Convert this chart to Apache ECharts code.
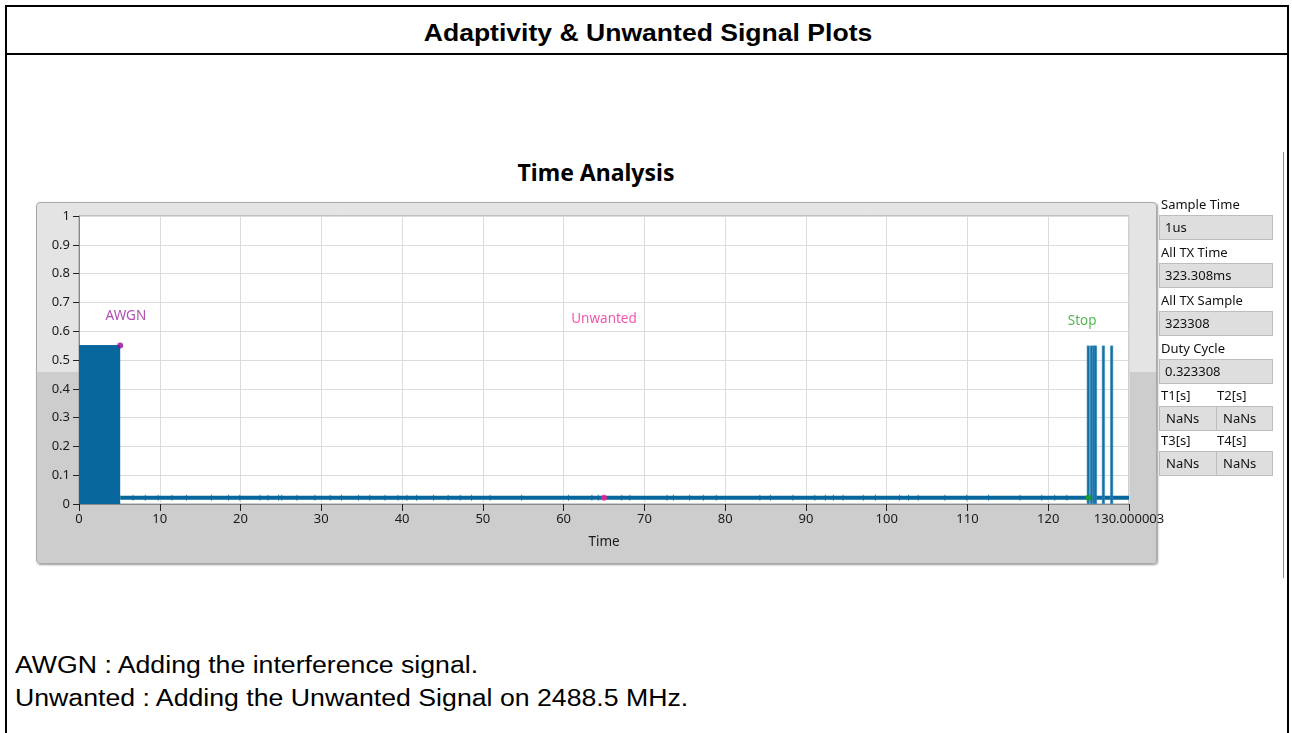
<!DOCTYPE html>
<html>
<head>
<meta charset="utf-8">
<script src="https://cdn.jsdelivr.net/npm/echarts@6/dist/echarts.min.js"></script>
<style>
  html, body { margin: 0; padding: 0; background: #fff; }
  #page { position: relative; width: 1292px; height: 733px; overflow: hidden; background: #fff; }
  .bar { position: absolute; background: #000; }
  .txt { position: absolute; white-space: nowrap; }
  #frame { position: absolute; left: 36px; top: 202px; width: 1119px; height: 360px;
    border: 1px solid #a9a9a9; border-radius: 4px;
    background: linear-gradient(to bottom, #e4e4e4 0px, #e4e4e4 169px, #cdcdcd 169px, #cdcdcd 100%);
    box-shadow: 1px 1px 2px #9a9a9a; z-index: 1; }
  #chart { position: absolute; left: 0; top: 0; width: 1292px; height: 733px; z-index: 2; }
  .lbl { position: absolute; font-family: "Noto Sans", "Open Sans", sans-serif; font-size: 13px; color: #111; z-index: 3; white-space: nowrap; }
  .box { position: absolute; background: #dedede; border: 1px solid #bdbdbd; box-sizing: border-box;
    font-family: "Noto Sans", "Open Sans", sans-serif; font-size: 13px; color: #111; z-index: 3; white-space: nowrap;
    padding-left: 5px; line-height: 22px; }
</style>
</head>
<body>
<div id="page">
  <div class="bar" style="left:5px;top:5px;width:2px;height:728px;"></div>
  <div class="bar" style="left:1287px;top:5px;width:2px;height:728px;"></div>
  <div class="bar" style="left:5px;top:5px;width:1284px;height:2px;"></div>
  <div class="bar" style="left:5px;top:53px;width:1284px;height:2px;"></div>
  <div class="txt" id="mainTitle" style="left:2px;width:1292px;top:20px;text-align:center;font-family:'Liberation Sans',Arial,sans-serif;font-weight:bold;font-size:23.5px;transform:scaleX(1.13);">Adaptivity &amp; Unwanted Signal Plots</div>
  <div class="txt" style="left:596px;top:156px;transform:translateX(-50%);font-family:'Noto Sans','Open Sans',sans-serif;font-weight:bold;font-size:23px;color:#000;">Time Analysis</div>
  <div style="position:absolute;left:1283px;top:152px;width:1px;height:426px;background:#8c8c8c;"></div>
  <div id="frame"></div>
  <div id="chart"></div>
  <div id="panel"></div>
  <div id="notes"></div>
</div>
<script>
// ---------- data ----------
var xTickValues = [0, 10, 20, 30, 40, 50, 60, 70, 80, 90, 100, 110, 120, 130];
var xLastTickLabel = '130.000003';
var awgnStart = 0;
var awgnEnd = 5.1;
var awgnLevel = 0.55;
var baselineLevel = 0.022;
var baselineEnd = 130;
var spikeTimes = [124.96, 125.35, 125.65, 125.85, 126.83, 127.85];
var spikeLevel = 0.55;
var noiseTickTimes = [6.7, 8.2, 9.8, 11.5, 13.3, 16.4, 18.5, 19.9, 22.4, 23.4, 24.7, 25.1, 27.0, 29.2, 31.1, 32.5,
  34.6, 36.0, 37.9, 39.5, 40.6, 41.8, 43.9, 45.7, 47.2, 48.6, 50.9, 54.8, 60.6, 63.5, 64.3, 67.2, 68.2, 72.8,
  73.6, 75.6, 77.3, 78.9, 84.3, 85.6, 88.4, 91.1, 92.4, 93.4, 94.6, 97.1, 98.6, 101.6, 102.7, 103.9, 107.2,
  109.9, 112.6, 116.5, 119.2, 120.8, 122.3];
var markerNames = ['AWGN', 'Unwanted', 'Stop'];
var markerTimes = [5.1, 65.0, 124.96];
var markerValues = [0.55, 0.022, 0.022];
var annotationTimes = [5.8, 65.0, 124.2];
var annotationValues = [0.653, 0.642, 0.635];
var panelLabels = ['Sample Time', 'All TX Time', 'All TX Sample', 'Duty Cycle'];
var panelValues = ['1us', '323.308ms', '323308', '0.323308'];
var timeLabels = ['T1[s]', 'T2[s]', 'T3[s]', 'T4[s]'];
var timeValues = ['NaNs', 'NaNs', 'NaNs', 'NaNs'];
var notes = ['AWGN : Adding the interference signal.', 'Unwanted : Adding the Unwanted Signal on 2488.5 MHz.'];

// ---------- styles ----------
var signalColor = '#07669c';
var markerColors = { 'AWGN': '#990a99', 'Unwanted': '#ff1a8c', 'Stop': '#1aa31a' };
var labelColors = { 'AWGN': '#9c1f9c', 'Unwanted': '#f02c98', 'Stop': '#2aa52a' };
var uiFont = '"Noto Sans", "Open Sans", sans-serif';

// ---------- right-hand panel ----------
(function () {
  var panel = document.getElementById('panel');
  var html = '';
  var tops = [195, 243, 291, 339];
  for (var i = 0; i < panelLabels.length; i++) {
    html += '<div class="lbl" style="left:1161px;top:' + tops[i] + 'px;">' + panelLabels[i] + '</div>';
    html += '<div class="box" style="left:1159px;top:' + (tops[i] + 20) + 'px;width:114px;height:25px;">' + panelValues[i] + '</div>';
  }
  var rowTops = [386, 431];
  for (var r = 0; r < 2; r++) {
    html += '<div class="lbl" style="left:1161px;top:' + rowTops[r] + 'px;">' + timeLabels[r * 2] + '</div>';
    html += '<div class="lbl" style="left:1217px;top:' + rowTops[r] + 'px;">' + timeLabels[r * 2 + 1] + '</div>';
    html += '<div class="box" style="left:1159px;top:' + (rowTops[r] + 20) + 'px;width:58px;height:25px;padding-left:6px;">' + timeValues[r * 2] + '</div>';
    html += '<div class="box" style="left:1216px;top:' + (rowTops[r] + 20) + 'px;width:57px;height:25px;padding-left:6px;">' + timeValues[r * 2 + 1] + '</div>';
  }
  panel.innerHTML = html;
  var nd = document.getElementById('notes');
  var nh = '';
  for (var k = 0; k < notes.length; k++) {
    nh += '<div class="txt" style="left:15px;top:' + (652 + k * 33) + 'px;font-family:\'Liberation Sans\',Arial,sans-serif;font-size:23.5px;color:#000;transform:scaleX(1.135);transform-origin:0 0;">' + notes[k] + '</div>';
  }
  nd.innerHTML = nh;
})();

// ---------- chart ----------
var chart = echarts.init(document.getElementById('chart'), null, { renderer: 'canvas' });

var awgnData = [[awgnStart, awgnLevel], [awgnEnd, awgnLevel]];
var baselineData = [[awgnEnd, baselineLevel], [baselineEnd, baselineLevel]];
var spikeData = spikeTimes.map(function (t) { return [t, spikeLevel]; });
var noiseData = noiseTickTimes.map(function (t) { return [t, baselineLevel]; });
var markerData = markerNames.map(function (n, i) {
  return { name: n, value: [markerTimes[i], markerValues[i]], itemStyle: { color: markerColors[n] } };
});
var annotationData = markerNames.map(function (n, i) {
  return { name: n, value: [annotationTimes[i], annotationValues[i]], label: { color: labelColors[n] } };
});

chart.setOption({
  backgroundColor: 'transparent',
  animation: false,
  grid: { left: 79, top: 216, width: 1050, height: 288, show: true, backgroundColor: '#ffffff', borderColor: '#9c9c9c', borderWidth: 1 },
  xAxis: {
    type: 'value', min: 0, max: 130, interval: 10,
    axisLine: { show: true, onZero: false, lineStyle: { color: '#8a8a8a', width: 1 } },
    axisTick: { show: true, length: 7, lineStyle: { color: '#222' } },
    axisLabel: {
      color: '#1a1a1a', fontFamily: uiFont, fontSize: 13, margin: 9,
      formatter: function (v) { return v === baselineEnd ? xLastTickLabel : String(v); }
    },
    splitLine: { show: true, lineStyle: { color: '#dcdcdc', width: 1 } },
    name: 'Time', nameLocation: 'middle', nameGap: 31,
    nameTextStyle: { color: '#1a1a1a', fontFamily: uiFont, fontSize: 13.5 }
  },
  yAxis: {
    type: 'value', min: 0, max: 1, interval: 0.1,
    axisLine: { show: true, onZero: false, lineStyle: { color: '#8a8a8a', width: 1 } },
    axisTick: { show: true, length: 6, lineStyle: { color: '#222' } },
    axisLabel: {
      color: '#1a1a1a', fontFamily: uiFont, fontSize: 13, margin: 9,
      formatter: function (v) { return String(Math.round(v * 10) / 10); }
    },
    splitLine: { show: true, lineStyle: { color: '#dcdcdc', width: 1 } }
  },
  series: [
    {
      type: 'line', data: awgnData, showSymbol: false, z: 3,
      lineStyle: { color: signalColor, width: 1 },
      areaStyle: { color: signalColor, opacity: 1, origin: 'start' }
    },
    {
      type: 'line', data: baselineData, showSymbol: false, z: 3,
      lineStyle: { color: signalColor, width: 4 }
    },
    {
      type: 'scatter', data: noiseData, symbol: 'rect', symbolSize: [1, 6], z: 3,
      itemStyle: { color: signalColor }
    },
    {
      type: 'bar', data: spikeData, barWidth: 3, z: 4,
      itemStyle: { color: '#1570a6', borderColor: '#3f8fbf', borderWidth: 0.5 }
    },
    {
      type: 'scatter', data: markerData, symbol: 'circle', symbolSize: 6, z: 6
    },
    {
      type: 'scatter', data: annotationData, symbolSize: 0, z: 7,
      itemStyle: { color: 'transparent' },
      label: { show: true, position: 'inside', formatter: '{b}', fontFamily: uiFont, fontSize: 13.5 }
    }
  ]
});
</script>
</body>
</html>
